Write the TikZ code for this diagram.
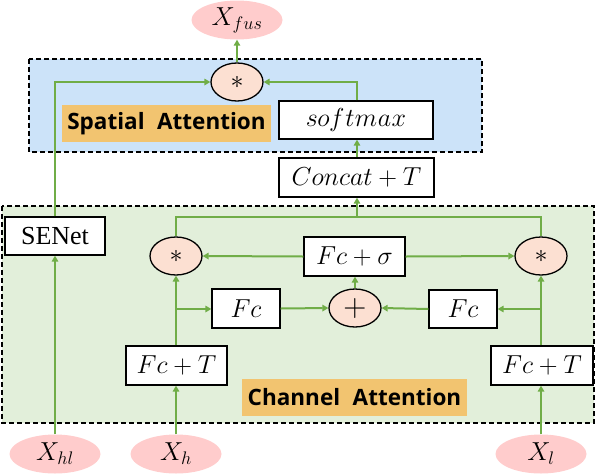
\RequirePackage{fix-cm}
\documentclass[tikz,border=0pt]{standalone}
\usepackage{fontspec}
\setmainfont{Liberation Serif}
\newfontfamily\lblfont{Open Sans}
\usetikzlibrary{shapes.geometric,arrows.meta}
\definecolor{gline}{HTML}{70AD47}
\definecolor{bluebg}{HTML}{CCE3F9}
\definecolor{greenbg}{HTML}{E2EFDA}
\definecolor{pinkin}{HTML}{FFCCCC}
\definecolor{peach}{HTML}{FCE0D2}
\definecolor{orangelbl}{HTML}{F2C470}
\begin{document}
\begin{tikzpicture}[x=1pt,y=-1pt,
  font=\fontsize{26}{29}\selectfont,
  region/.style={draw=black, line width=1.4pt, dash pattern=on 5pt off 3pt},
  ioell/.style={ellipse, fill=pinkin, inner sep=0pt, minimum width=91pt, minimum height=39pt},
  opell/.style={ellipse, draw=black, line width=1.3pt, fill=peach, inner sep=0pt, minimum width=52pt, minimum height=38pt},
  wbox/.style={draw=black, line width=1.3pt, fill=white, inner sep=0pt, minimum height=38pt},
  lbl/.style={fill=orangelbl, inner sep=0pt, minimum height=37pt, font=\lblfont\bfseries\fontsize{22.5}{26}\selectfont},
  conn/.style={draw=gline, line width=2pt},
  arr/.style={conn, -{Triangle[length=6pt,width=6.5pt]}}
]
\useasboundingbox (0,0) rectangle (596,474);
% regions
\fill[bluebg] (29,59) rectangle (482,152);
\draw[region] (29,59) rectangle (482,152);
\fill[greenbg] (2,206) rectangle (594,423);
\draw[region] (2,206) rectangle (594,423);

% io
\node[ioell] (xfus) at (237,20) {$X_{fus}$};
\node[ioell] (xhl) at (55,454) {$X_{hl}$};
\node[ioell] (xh) at (176,454) {$X_{h}$};
\node[ioell] (xl) at (541,454) {$X_{l}$};

% spatial
\node[opell] (stop) at (237,82) {$*$};
\node[lbl, minimum width=209pt] (sal) at (166.5,123.5) {Spatial\hspace{0.3em} Attention};
\node[wbox, minimum width=154pt] (soft) at (356,120) {$s\hspace{-0.5pt}o\hspace{-0.5pt}f\hspace{1pt}t\hspace{0.5pt}m\hspace{0.5pt}a\hspace{0.5pt}x$};
\node[wbox, minimum width=155pt, minimum height=39pt] (concat) at (356.5,177.5) {$Concat+T$};

% channel
\node[wbox, minimum width=100pt] (senet) at (55,236) {SENet};
\node[opell] (lstar) at (176,256) {$*$};
\node[opell] (rstar) at (541,256) {$*$};
\node[wbox, minimum width=101pt, minimum height=39pt] (fcs) at (354.5,256.5) {$Fc+\sigma$};
\node[wbox, minimum width=68pt, minimum height=39pt] (fcl) at (246,308.5) {$Fc$};
\node[opell, font=\fontsize{32}{32}\selectfont] (plus) at (355,308) {$+$};
\node[wbox, minimum width=68pt] (fcr) at (463,309) {$Fc$};
\node[wbox, minimum width=101pt, minimum height=39pt] (fctl) at (176.5,365.5) {$Fc+T$};
\node[wbox, minimum width=102pt, minimum height=39pt] (fctr) at (542,365.5) {$Fc+T$};
\node[lbl, minimum width=225pt] (cal) at (354.5,397.5) {Channel\hspace{0.3em} Attention};

% coordinates
\coordinate (topl) at (55,82);
\coordinate (topr) at (357,82);
\coordinate (busl) at (176,217);
\coordinate (busr) at (541,217);
\coordinate (busm) at (357,217);
\coordinate (brl) at (176,309);
\coordinate (brr) at (541,309);

% connectors
\draw[arr] (xhl.north) -- (senet.south);
\draw[arr] (senet.north) -- (topl) -- (stop.west);
\draw[arr] (soft.north -| topr) -- (topr) -- (stop.east);
\draw[arr] (stop.north) -- (xfus.south);
\draw[arr] (concat.north -| busm) -- (soft.south -| busm);
\draw[conn] (lstar.north) -- (busl) -- (busr) -- (rstar.north);
\draw[arr] (busm) -- (concat.south -| busm);
\draw[arr] (fcs.west) -- (lstar.east);
\draw[arr] (fcs.east) -- (rstar.west);
\draw[arr] (plus.north) -- (fcs.south -| plus.north);
\draw[arr] (fcl.east) -- (plus.west);
\draw[arr] (fcr.west) -- (plus.east);
\draw[arr] (fctl.north -| lstar.south) -- (lstar.south);
\draw[arr] (brl) -- (fcl.west |- brl);
\draw[arr] (fctr.north -| rstar.south) -- (rstar.south);
\draw[arr] (brr) -- (fcr.east |- brr);
\draw[arr] (xh.north) -- (fctl.south -| xh.north);
\draw[arr] (xl.north) -- (fctr.south -| xl.north);
\end{tikzpicture}
\end{document}
